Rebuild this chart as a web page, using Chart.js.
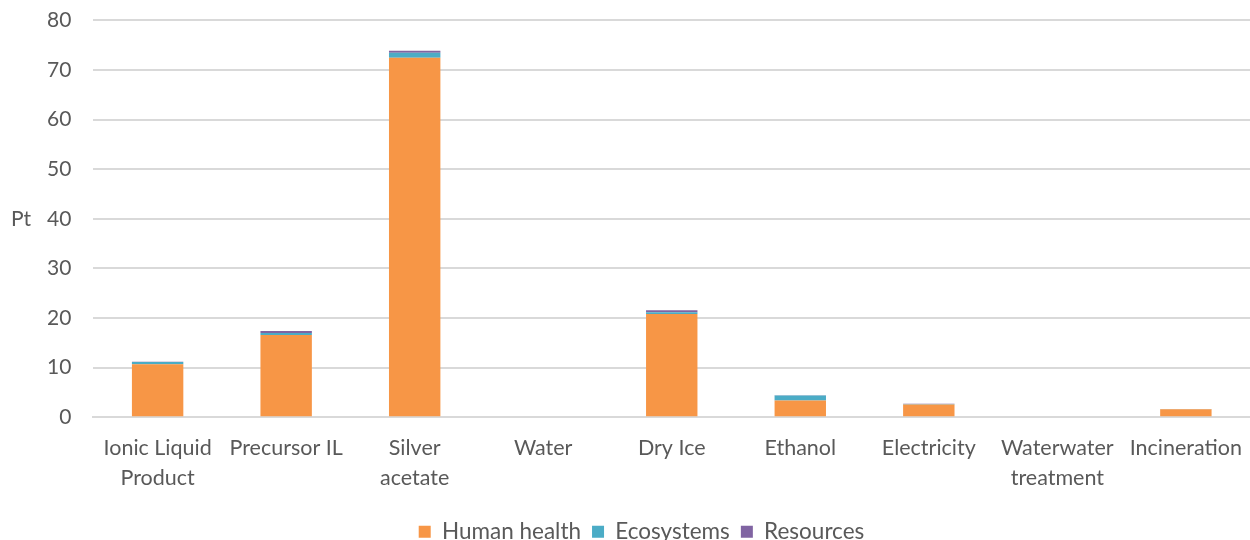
<!DOCTYPE html>
<html>
<head>
<meta charset="utf-8">
<script src="https://cdn.jsdelivr.net/npm/chart.js@4"></script>
<style>
  html, body { margin: 0; padding: 0; background: #fff; overflow: hidden; }
  #wrap { width: 1258px; height: 564px; position: relative; top: -11px; }
</style>
</head>
<body>
<div id="wrap"><canvas id="myChart"></canvas></div>
<script>
const categories = [
    ['Ionic Liquid', 'Product'], 'Precursor IL', ['Silver', 'acetate'], 'Water',
    'Dry Ice', 'Ethanol', 'Electricity', ['Waterwater', 'treatment'], 'Incineration'
];
const humanHealth = [10.7, 16.6, 72.5, 0, 20.8, 3.4, 2.6, 0, 1.6];
const ecosystems = [0.45, 0.4, 1.0, 0, 0.4, 1.0, 0.1, 0, 0.05];
const resources = [0.05, 0.4, 0.4, 0, 0.4, 0.05, 0.02, 0, 0.02];
const yTicks = [0, 10, 20, 30, 40, 50, 60, 70, 80];

const textColor = '#595959';
const fontFamily = 'Lato, "Open Sans", sans-serif';

// unrotated "Pt" label to the left of the y ticks
const unitLabel = {
    id: 'unitLabel',
    afterDraw(chart) {
        const ctx = chart.ctx;
        const area = chart.chartArea;
        ctx.save();
        ctx.fillStyle = textColor;
        ctx.font = '21px ' + fontFamily;
        ctx.textAlign = 'left';
        ctx.textBaseline = 'middle';
        ctx.fillText('Pt', 11, (area.top + area.bottom) / 2);
        ctx.restore();
    }
};

document.addEventListener('DOMContentLoaded', function () {
    const ctx = document.getElementById('myChart');
    new Chart(ctx, {
        type: 'bar',
        data: {
            labels: categories,
            datasets: [
                { label: 'Human health', data: humanHealth, backgroundColor: '#F79646' },
                { label: 'Ecosystems', data: ecosystems, backgroundColor: '#4BACC6' },
                { label: 'Resources', data: resources, backgroundColor: '#8064A2' }
            ]
        },
        options: {
            responsive: true,
            maintainAspectRatio: false,
            animation: false,
            datasets: {
                bar: {
                    barPercentage: 0.4,
                    categoryPercentage: 1,
                    borderWidth: 0
                }
            },
            layout: { padding: { left: 25, top: 0, right: 0, bottom: 0 } },
            plugins: {
                legend: {
                    position: 'bottom',
                    labels: {
                        color: textColor,
                        font: { family: fontFamily, size: 22.5 },
                        boxWidth: 12,
                        boxHeight: 12,
                        padding: 11
                    }
                },
                tooltip: { enabled: false }
            },
            scales: {
                x: {
                    stacked: true,
                    grid: { display: false, drawTicks: false },
                    border: { color: '#d9d9d9', width: 2 },
                    ticks: {
                        color: textColor,
                        font: { family: fontFamily, size: 21.5, lineHeight: 1.4 },
                        padding: 16,
                        maxRotation: 0,
                        autoSkip: false
                    }
                },
                y: {
                    stacked: true,
                    min: 0,
                    max: 80,
                    afterBuildTicks(axis) {
                        axis.ticks = yTicks.map(v => ({ value: v }));
                    },
                    grid: { color: '#d9d9d9', lineWidth: 2, drawTicks: false },
                    border: { display: false },
                    ticks: {
                        color: textColor,
                        font: { family: fontFamily, size: 21, lineHeight: 0.9 },
                        padding: 22
                    }
                }
            }
        },
        plugins: [unitLabel]
    });
});
</script>
</body>
</html>
